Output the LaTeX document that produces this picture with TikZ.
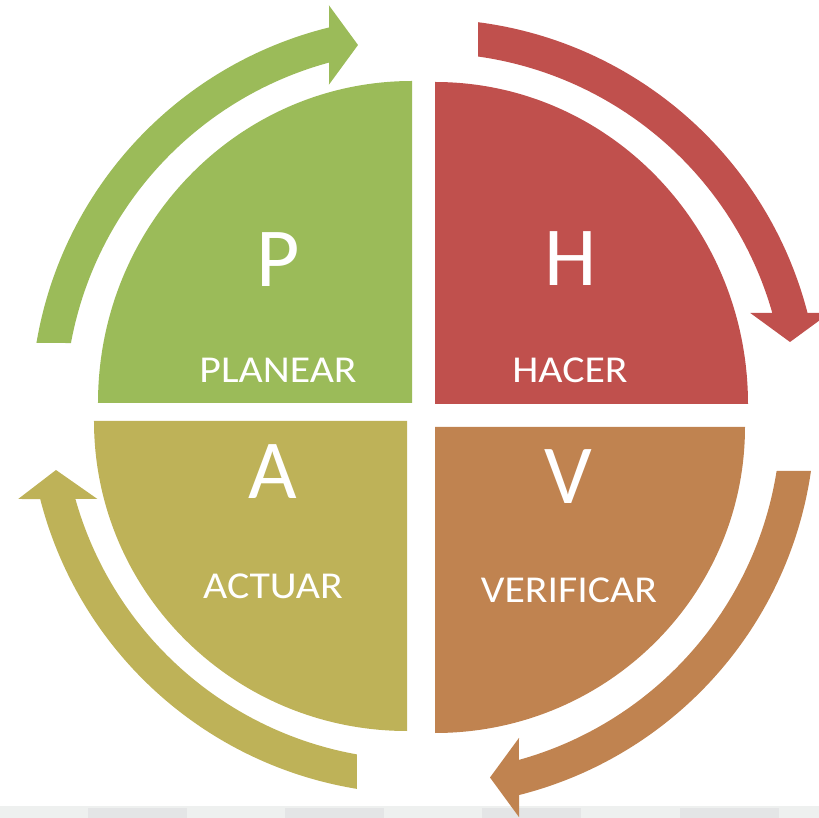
\documentclass[tikz,border=0pt]{standalone}
\usepackage{fontspec}
\setmainfont{Carlito}
\newfontfamily\labelfont[FakeStretch=1.1]{Carlito}
\definecolor{planGreen}{HTML}{9BBB59}
\definecolor{doRed}{HTML}{C0504D}
\definecolor{actOlive}{HTML}{BEB258}
\definecolor{checkOrange}{HTML}{C08350}
\definecolor{stripGrey}{HTML}{EEF0EF}
\definecolor{tabGrey}{HTML}{E4E5E6}
\tikzset{
    letter/.style={text=white, inner sep=0pt, font=\fontsize{84}{84}\selectfont},
    word/.style={text=white, inner sep=0pt, font=\labelfont\fontsize{38}{38}\selectfont},
}
\begin{document}
\begin{tikzpicture}[x=1pt,y=1pt]
    \useasboundingbox (-423,-407) rectangle (396,411);
    % grey strip at the bottom
    \fill[stripGrey] (-423,-407) rectangle (396,-395);
    \foreach \x in {88,285,482,680} {
        \fill[tabGrey] ({\x-423},-407) rectangle ({\x-324},-397);
    }
    % quadrants
    \fill[planGreen] (-11,8) -- (-11,330) arc[start angle=90, end angle=180, x radius=314, y radius=322] -- cycle;
    \fill[doRed] (12,7) -- (325,7) arc[start angle=0, end angle=90, x radius=313, y radius=322] -- cycle;
    \fill[actOlive] (-16,-10) -- (-329,-10) arc[start angle=180, end angle=270, x radius=313, y radius=310] -- cycle;
    \fill[checkOrange] (12,-16) -- (12,-322) arc[start angle=270, end angle=360, x radius=310, y radius=306] -- cycle;
    % curved arrows
    \begin{scope}[shift={(0,3)}]
        \fill[planGreen] (170.45:392) arc[start angle=170.45, end angle=103.87, radius=392]
            -- (-94,402.6) -- (-65,363) -- (-94,323.4)
            -- (105.22:358) arc[start angle=105.22, end angle=169.54, radius=358] -- cycle;
    \end{scope}
    \begin{scope}[shift={(5,0)}]
        \fill[doRed] (82.67:392) arc[start angle=82.67, end angle=14.48, radius=392]
            -- (401.6,98) -- (362,69) -- (322.3,98)
            -- (15.89:358) arc[start angle=15.89, end angle=81.97, radius=358] -- cycle;
    \end{scope}
    \begin{scope}[shift={(0,-4)}]
        \fill[checkOrange] (-8.21:392) arc[start angle=-8.21, end angle=-75.82, radius=392]
            -- (96,-402.1) -- (67,-362.5) -- (96,-322.9)
            -- (-74.45:358) arc[start angle=-74.45, end angle=-9.0, radius=358] -- cycle;
    \end{scope}
    \begin{scope}[shift={(-3,9)}]
        \fill[actOlive] (260.75:392) arc[start angle=260.75, end angle=194.33, radius=392]
            -- (-401.8,-97) -- (-364,-68) -- (-322.6,-97)
            -- (195.72:358) arc[start angle=195.72, end angle=259.86, radius=358] -- cycle;
    \end{scope}
    % letters and labels
    \node[letter] (letP) at (-145,151) {P};
    \node[word] (lblP) at (-145,41) {PLANEAR};
    \node[letter] (letH) at (148,152) {H};
    \node[word] (lblH) at (147,41) {HACER};
    \node[letter] (letA) at (-150,-61) {A};
    \node[word] (lblA) at (-150,-175) {ACTUAR};
    \node[letter] (letV) at (145,-66) {V};
    \node[word] (lblV) at (146,-179) {VERIFICAR};
\end{tikzpicture}
\end{document}
